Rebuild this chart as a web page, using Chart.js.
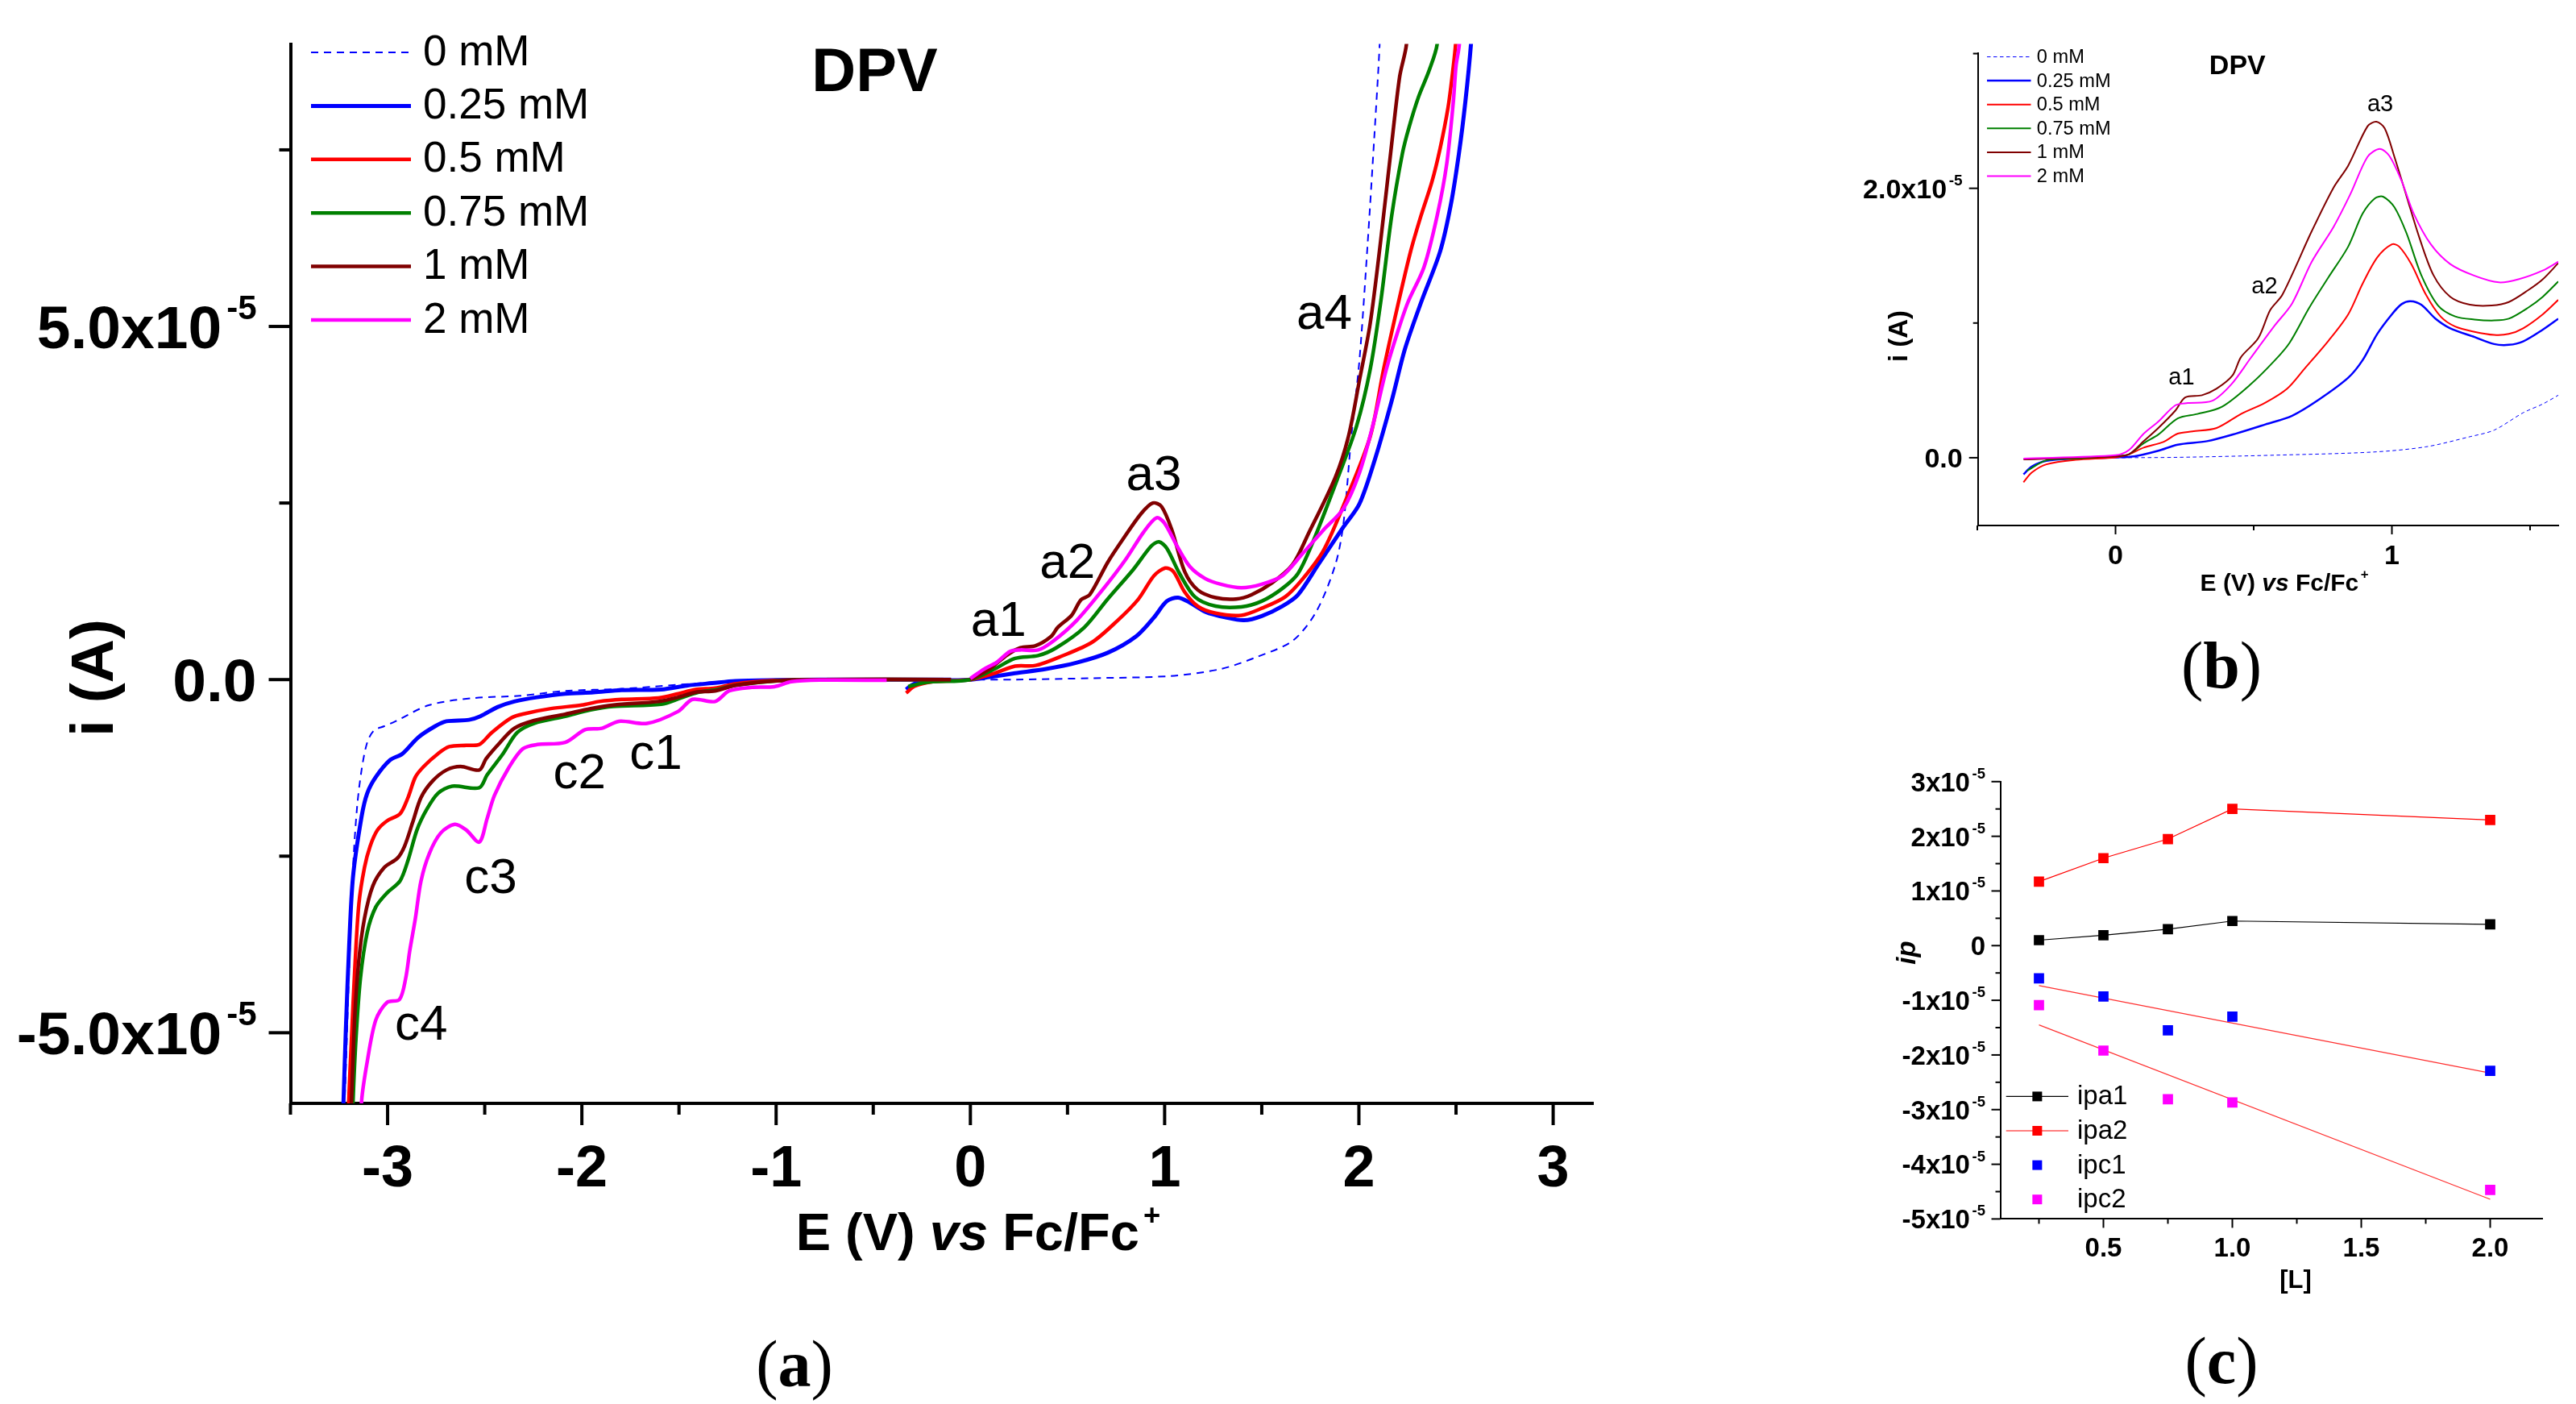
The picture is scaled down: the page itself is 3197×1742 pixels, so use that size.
<!DOCTYPE html>
<html lang="en">
<head>
<meta charset="UTF-8">
<title>DPV</title>
<script src="https://cdn.jsdelivr.net/npm/chart.js"></script>
<style>
    body { margin: 0; background: white; width: 3197px; height: 1742px; overflow: hidden; position: relative; }
    canvas { position: absolute; display: block; }
    .cap { position: absolute; font-family: 'Liberation Serif', serif; font-size: 82px; color: #000; transform: translate(-50%, -50%); white-space: nowrap; }
</style>
</head>
<body>
<canvas id="panelA" width="2200" height="1640" style="left:0;top:0"></canvas>
<canvas id="panelB" width="947" height="770" style="left:2250px;top:0"></canvas>
<canvas id="panelC" width="947" height="720" style="left:2250px;top:920px"></canvas>
<div class="cap" style="left:986px;top:1693px">(<b>a</b>)</div>
<div class="cap" style="left:2757px;top:826px">(<b>b</b>)</div>
<div class="cap" style="left:2757px;top:1689px">(<b>c</b>)</div>

<script>
// all currents are in units of 1e-5 A, potentials in V
const seriesNames = ['0 mM', '0.25 mM', '0.5 mM', '0.75 mM', '1 mM', '2 mM'];

// panel (a), full scan. null in y splits the cathodic and anodic branch
const xA0 = [-3.24,-3.221,-3.198,-3.178,-3.157,-3.134,-3.105,-3.07,-3.017,-2.959,-2.785,-2.552,-2.319,-2.086,-1.795,-1.21,-0.776,0,0.23,0.627,1.024,1.289,1.474,1.659,1.78,1.878,1.92,1.961,2.003,2.044,2.079,2.107,2.12];
const yA0 = [-7,-5.97,-4.1,-2.66,-1.8,-1.28,-0.89,-0.72,-0.66,-0.59,-0.36,-0.26,-0.23,-0.16,-0.13,-0.02,0,0,0,0.02,0.05,0.15,0.32,0.55,0.96,1.62,2.2,3.44,4.53,6.13,7.67,9,10];
const xA025 = [-3.24,-3.227,-3.215,-3.198,-3.178,-3.134,-3.105,-3.061,-2.988,-2.924,-2.843,-2.755,-2.697,-2.581,-2.523,-2.435,-2.348,-2.231,-2.086,-1.94,-1.795,-1.591,-1.46,-1.329,-1.21,-1,-0.776,-0.1,-0.1,-0.331,-0.288,-0.193,0,0.098,0.23,0.389,0.548,0.707,0.852,0.945,1.011,1.069,1.13,1.21,1.315,1.408,1.5,1.606,1.686,1.791,1.92,2.003,2.086,2.169,2.237,2.32,2.418,2.473,2.515,2.548,2.577,2.6];
const yA025 = [-7,-5.97,-4.95,-3.77,-2.79,-1.94,-1.61,-1.38,-1.14,-1.05,-0.82,-0.66,-0.59,-0.57,-0.52,-0.39,-0.31,-0.25,-0.2,-0.18,-0.15,-0.14,-0.085,-0.05,-0.02,-0.007,0,0,null,-0.14,-0.06,-0.02,0,0.036,0.09,0.15,0.24,0.38,0.61,0.88,1.11,1.16,1.09,0.96,0.88,0.84,0.9,1.04,1.2,1.63,2.16,2.49,3.15,3.95,4.68,5.34,6.06,6.72,7.45,8.18,9,10];
const xA05 = [-3.21,-3.2,-3.186,-3.169,-3.148,-3.119,-3.09,-3.052,-3.003,-2.936,-2.895,-2.857,-2.814,-2.741,-2.683,-2.595,-2.528,-2.464,-2.362,-2.29,-2.159,-2,-1.911,-1.795,-1.606,-1.504,-1.416,-1.314,-1.21,-1.009,-0.776,-0.1,-0.1,-0.331,-0.288,-0.193,0,0.124,0.23,0.336,0.468,0.627,0.759,0.865,0.945,1.003,1.045,1.103,1.17,1.262,1.395,1.5,1.62,1.712,1.818,1.92,2.058,2.127,2.197,2.266,2.32,2.376,2.418,2.459,2.48,2.498,2.52];
const yA05 = [-7,-5.97,-5.09,-4.1,-3.18,-2.66,-2.36,-2.13,-2,-1.9,-1.67,-1.38,-1.23,-1.05,-0.95,-0.93,-0.92,-0.75,-0.54,-0.48,-0.41,-0.36,-0.31,-0.28,-0.26,-0.2,-0.14,-0.12,-0.06,-0.013,0,0,null,-0.19,-0.095,-0.03,0,0.09,0.19,0.2,0.33,0.53,0.84,1.14,1.47,1.58,1.53,1.24,1.04,0.94,0.91,1.01,1.17,1.43,1.83,2.46,3.44,4.39,5.26,6.06,6.57,7.05,7.52,8.1,8.54,9,10];
const xA075 = [-3.19,-3.178,-3.163,-3.14,-3.105,-3.061,-3.003,-2.936,-2.895,-2.849,-2.799,-2.741,-2.668,-2.528,-2.488,-2.406,-2.333,-2.246,-2.086,-1.955,-1.838,-1.591,-1.489,-1.402,-1.3,-1.21,-1.009,-0.776,-0.1,-0.1,-0.32,-0.25,-0.193,0,0.124,0.23,0.349,0.442,0.587,0.707,0.839,0.931,0.971,1.011,1.077,1.156,1.262,1.395,1.5,1.606,1.686,1.765,1.892,1.988,2.058,2.112,2.169,2.224,2.257,2.307,2.361,2.403,2.42];
const yA075 = [-7,-5.97,-5.09,-4.23,-3.58,-3.22,-3.02,-2.85,-2.56,-2.13,-1.84,-1.61,-1.51,-1.53,-1.35,-1.05,-0.75,-0.62,-0.52,-0.43,-0.38,-0.35,-0.26,-0.18,-0.14,-0.08,-0.02,0,0,null,-0.1,-0.05,-0.03,0,0.15,0.3,0.34,0.45,0.74,1.14,1.56,1.89,1.95,1.86,1.5,1.17,1.04,1.03,1.11,1.29,1.5,1.96,2.86,3.59,4.39,5.34,6.57,7.45,7.81,8.25,8.62,9,10];
const xA1 = [-3.2,-3.186,-3.169,-3.148,-3.119,-3.076,-3.017,-2.95,-2.913,-2.872,-2.828,-2.77,-2.697,-2.624,-2.528,-2.493,-2.421,-2.348,-2.246,-2.086,-1.955,-1.838,-1.606,-1.504,-1.416,-1.314,-1.21,-1.009,-0.776,-0.1,-0.1,0,0.098,0.19,0.257,0.336,0.415,0.45,0.521,0.569,0.614,0.707,0.786,0.879,0.939,0.984,1.037,1.103,1.17,1.262,1.368,1.447,1.553,1.659,1.739,1.878,1.946,2.003,2.058,2.112,2.169,2.21,2.245,2.26];
const yA1 = [-7,-5.97,-4.76,-3.97,-3.38,-2.92,-2.66,-2.53,-2.36,-2.03,-1.67,-1.44,-1.28,-1.23,-1.28,-1.12,-0.89,-0.69,-0.58,-0.49,-0.41,-0.36,-0.31,-0.25,-0.18,-0.16,-0.08,-0.02,0,0,null,0,0.15,0.35,0.45,0.48,0.61,0.74,0.91,1.13,1.2,1.66,1.99,2.35,2.5,2.45,2.12,1.53,1.27,1.16,1.14,1.2,1.37,1.63,2.06,2.86,3.44,4.24,5.04,6.21,7.59,8.54,9,10];
const xA2 = [-3.15,-3.134,-3.105,-3.061,-3.003,-2.939,-2.907,-2.886,-2.857,-2.828,-2.785,-2.726,-2.654,-2.595,-2.528,-2.488,-2.45,-2.377,-2.304,-2.231,-2.086,-1.984,-1.897,-1.809,-1.664,-1.504,-1.431,-1.314,-1.242,-1.125,-1.009,-0.921,-0.776,-0.431,-0.431,0,0.071,0.138,0.204,0.257,0.349,0.429,0.548,0.68,0.799,0.892,0.958,0.998,1.064,1.13,1.209,1.289,1.395,1.5,1.606,1.712,1.818,1.92,2.003,2.071,2.141,2.197,2.252,2.335,2.403,2.452,2.486,2.5,2.517,2.53];
const yA2 = [-7,-5.97,-5.41,-4.82,-4.57,-4.53,-4.23,-3.84,-3.38,-2.85,-2.46,-2.17,-2.05,-2.13,-2.3,-1.97,-1.64,-1.25,-0.98,-0.92,-0.89,-0.71,-0.69,-0.59,-0.62,-0.45,-0.28,-0.31,-0.16,-0.11,-0.1,-0.03,-0.007,-0.01,null,0.016,0.15,0.25,0.4,0.42,0.42,0.55,0.84,1.27,1.7,2.09,2.29,2.22,1.89,1.6,1.43,1.35,1.3,1.35,1.47,1.79,2.12,2.42,2.93,3.59,4.39,4.9,5.34,5.84,6.57,7.3,8.18,8.69,9,10];

// panel (b), anodic zoom
const xB0 = [0,0.225,0.577,0.93,1.123,1.282,1.37,1.475,1.546,1.602];
const yB0 = [0,0.003,0.019,0.042,0.081,0.156,0.205,0.334,0.399,0.464];
const xB025 = [-0.333,-0.303,-0.25,-0.144,0,0.067,0.155,0.225,0.331,0.437,0.542,0.639,0.736,0.842,0.894,0.947,1,1.035,1.067,1.106,1.158,1.211,1.299,1.37,1.423,1.475,1.546,1.602];
const yB025 = [-0.123,-0.065,-0.023,-0.006,0.003,0.01,0.052,0.097,0.123,0.18,0.247,0.312,0.432,0.594,0.724,0.919,1.065,1.14,1.162,1.136,1.032,0.961,0.896,0.844,0.838,0.864,0.951,1.032];
const xB05 = [-0.333,-0.303,-0.25,-0.144,0,0.049,0.102,0.173,0.225,0.278,0.366,0.454,0.542,0.621,0.683,0.771,0.842,0.894,0.947,1,1.026,1.07,1.123,1.176,1.229,1.299,1.37,1.423,1.475,1.546,1.602];
const yB05 = [-0.182,-0.11,-0.049,-0.016,0.003,0.026,0.075,0.117,0.179,0.195,0.221,0.325,0.409,0.513,0.659,0.87,1.065,1.292,1.487,1.584,1.568,1.438,1.211,1.049,0.974,0.935,0.912,0.919,0.961,1.065,1.172];
const xB075 = [-0.32,-0.25,-0.144,0,0.049,0.102,0.155,0.225,0.296,0.384,0.489,0.577,0.63,0.701,0.771,0.842,0.894,0.938,0.968,1.009,1.053,1.106,1.167,1.229,1.299,1.37,1.423,1.493,1.546,1.602];
const yB075 = [-0.097,-0.019,-0.006,0.013,0.026,0.107,0.172,0.292,0.325,0.377,0.545,0.724,0.854,1.114,1.341,1.568,1.812,1.925,1.938,1.86,1.666,1.357,1.13,1.049,1.026,1.019,1.032,1.114,1.195,1.308];
const xB1 = [-0.333,0,0.049,0.102,0.155,0.217,0.252,0.313,0.366,0.423,0.454,0.516,0.56,0.604,0.71,0.789,0.842,0.912,0.944,0.974,1.009,1.053,1.097,1.15,1.211,1.282,1.361,1.423,1.493,1.546,1.602];
const yB1 = [-0.013,0.01,0.026,0.123,0.221,0.351,0.448,0.464,0.513,0.61,0.747,0.886,1.097,1.211,1.682,2.006,2.169,2.461,2.494,2.445,2.234,1.942,1.649,1.357,1.195,1.136,1.13,1.156,1.244,1.325,1.445];
const xB2 = [-0.333,0,0.049,0.102,0.155,0.217,0.261,0.349,0.419,0.489,0.577,0.639,0.71,0.789,0.85,0.912,0.956,0.991,1.035,1.079,1.141,1.211,1.299,1.387,1.458,1.546,1.602];
const yB2 = [-0.006,0.019,0.058,0.179,0.269,0.39,0.406,0.422,0.545,0.74,0.984,1.146,1.455,1.714,1.958,2.234,2.292,2.24,2.055,1.812,1.584,1.438,1.351,1.302,1.325,1.39,1.455];

// panel (c), peak currents against concentration
const concL = [0.25, 0.5, 0.75, 1, 2];
const ipa1 = [0.10, 0.19, 0.30, 0.45, 0.39];
const ipa2 = [1.17, 1.60, 1.95, 2.50, 2.30];
const ipc1 = [-0.60, -0.93, -1.55, -1.30, -2.29];
const ipc2 = [-1.09, -1.92, -2.81, -2.87, -4.47];
const fitL = [0.25, 2];
const fitIpc1 = [-0.73, -2.33];
const fitIpc2 = [-1.45, -4.64];

// tick values and labels, the exponent is drawn raised behind each y label
const yExponent = '-5';
const aXMajor = [-3, -2, -1, 0, 1, 2, 3];
const aXMinor = [-3.5, -2.5, -1.5, -0.5, 0.5, 1.5, 2.5];
const aYMajor = [-5, 0, 5];
const aYMinor = [-2.5, 2.5, 7.5];
const aYLabels = ['-5.0x10', '0.0', '5.0x10'];
const bXMajor = [0, 1];
const bXMinor = [-0.5, 0.5, 1.5];
const bYMajor = [0, 2];
const bYMinor = [1, 3];
const bYLabels = ['0.0', '2.0x10'];
const cXMajor = [0.5, 1, 1.5, 2];
const cXMinor = [0.25, 0.75, 1.25, 1.75];
const cXLabels = ['0.5', '1.0', '1.5', '2.0'];
const cYMajor = [-5, -4, -3, -2, -1, 0, 1, 2, 3];
const cYMinor = [-4.5, -3.5, -2.5, -1.5, -0.5, 0.5, 1.5, 2.5];
const cYLabels = ['-5x10', '-4x10', '-3x10', '-2x10', '-1x10', '0', '1x10', '2x10', '3x10'];

// peak labels, in data coordinates
const aNotes = [['a1', 0.145, 0.81], ['a2', 0.5, 1.63], ['a3', 0.944, 2.88], ['a4', 1.822, 5.16], ['c1', -1.619, -1.07], ['c2', -2.012, -1.345], ['c3', -2.469, -2.83], ['c4', -2.827, -4.9]];
const bNotes = [['a1', 0.239, 0.593], ['a2', 0.539, 1.266], ['a3', 0.958, 2.62]];

const colors = ['#0000ff', '#0000ff', '#ff0000', '#008000', '#800000', '#ff00ff'];
const FONT = "'Liberation Sans', Arial, sans-serif";

function zip(xs, ys) {
    return xs.map((x, i) => ({ x: x, y: ys[i] }));
}

function curveSets(xs, ys, width, thin) {
    return seriesNames.map((name, i) => ({
        label: name,
        data: zip(xs[i], ys[i]),
        borderColor: colors[i],
        borderWidth: i === 0 ? thin : (i === 1 ? width + 0.5 : width),
        borderDash: i === 0 ? [thin * 4.5, thin * 3.5] : [],
        pointRadius: 0,
        tension: 0.3,
        order: -i
    }));
}

// draws text made of several runs: bold, italic, superscript
function richText(ctx, runs, size, x0, cy, align) {
    const fontOf = r => (r.italic ? 'italic ' : '') + 'bold ' + (r.sup ? size * 0.56 : size) + 'px ' + FONT;
    const gap = size * 0.08;
    let w = 0;
    runs.forEach(r => { ctx.font = fontOf(r); w += ctx.measureText(r.t).width + (r.sup ? gap : 0); });
    let x = align === 'right' ? x0 - w : x0 - w / 2;
    ctx.textAlign = 'left';
    ctx.textBaseline = 'alphabetic';
    runs.forEach(r => {
        ctx.font = fontOf(r);
        if (r.sup) x += gap;
        ctx.fillText(r.t, x, cy + size * 0.36 - (r.sup ? size * 0.48 : 0));
        x += ctx.measureText(r.t).width;
    });
}

function makePanel(id, cfg) {
    const canvas = document.getElementById(id);
    const area = cfg.area;
    const deco = {
        id: 'deco',
        afterDraw(chart) {
            const ctx = chart.ctx;
            const sx = chart.scales.x, sy = chart.scales.y;
            ctx.save();
            ctx.fillStyle = '#000';
            ctx.strokeStyle = '#000';

            // tick marks, major ones longer
            ctx.lineWidth = cfg.tickWidth;
            sx.ticks.forEach(t => {
                const p = sx.getPixelForValue(t.value), len = t.major ? cfg.majorLen : cfg.minorLen;
                ctx.beginPath(); ctx.moveTo(p, sx.top); ctx.lineTo(p, sx.top + len); ctx.stroke();
            });
            sy.ticks.forEach(t => {
                const p = sy.getPixelForValue(t.value), len = t.major ? cfg.majorLen : cfg.minorLen;
                ctx.beginPath(); ctx.moveTo(sy.right, p); ctx.lineTo(sy.right - len, p); ctx.stroke();
            });

            // y tick labels with the raised exponent
            cfg.yMajor.forEach((v, k) => {
                const runs = [{ t: cfg.yLabels[k] }];
                if (v !== 0) runs.push({ t: yExponent, sup: true });
                richText(ctx, runs, cfg.yTickSize, sy.right - cfg.yPad, sy.getPixelForValue(v), 'right');
            });

            // peak labels
            ctx.textAlign = 'center';
            ctx.textBaseline = 'middle';
            ctx.font = cfg.noteSize + 'px ' + FONT;
            (cfg.notes || []).forEach(n => ctx.fillText(n[0], sx.getPixelForValue(n[1]), sy.getPixelForValue(n[2])));

            // plot title
            if (cfg.title) richText(ctx, [{ t: cfg.title[0] }], cfg.title[3], sx.getPixelForValue(cfg.title[1]), sy.getPixelForValue(cfg.title[2]));

            // axis titles
            richText(ctx, cfg.xTitle.runs, cfg.xTitle.size, cfg.xTitle.x, cfg.xTitle.y);
            ctx.save();
            ctx.translate(cfg.yTitle.x, cfg.yTitle.y);
            ctx.rotate(-Math.PI / 2);
            richText(ctx, cfg.yTitle.runs, cfg.yTitle.size, 0, 0);
            ctx.restore();

            // legend
            const lg = cfg.legend;
            chart.data.datasets.filter(d => !d.noLegend).forEach((d, i) => {
                const y = lg.top + i * lg.step;
                if (d.showLine !== false) {
                    ctx.strokeStyle = d.borderColor;
                    ctx.lineWidth = d.borderWidth;
                    ctx.setLineDash(d.borderDash || []);
                    ctx.beginPath(); ctx.moveTo(lg.lineL, y); ctx.lineTo(lg.lineR, y); ctx.stroke();
                    ctx.setLineDash([]);
                }
                if (lg.marker) {
                    ctx.fillStyle = d.pointBackgroundColor;
                    ctx.fillRect((lg.lineL + lg.lineR) / 2 - lg.marker / 2, y - lg.marker / 2, lg.marker, lg.marker);
                }
                ctx.fillStyle = '#000';
                ctx.font = lg.size + 'px ' + FONT;
                ctx.textAlign = 'left';
                ctx.textBaseline = 'middle';
                ctx.fillText(d.label, lg.textX, y + 1);
            });
            ctx.restore();
        }
    };
    const axis = (min, max, major, minor, labels, tickOpts, afterFit) => ({
        type: 'linear',
        min: min,
        max: max,
        border: { display: true, color: '#000', width: cfg.axisWidth },
        grid: { drawOnChartArea: false, drawTicks: false },
        ticks: Object.assign({
            autoSkip: false,
            maxRotation: 0,
            color: '#000',
            callback: v => {
                const k = major.indexOf(v);
                return k < 0 ? '' : labels[k];
            }
        }, tickOpts),
        afterBuildTicks: s => {
            s.ticks = major.map(v => ({ value: v, major: true })).concat(minor.map(v => ({ value: v, major: false })));
        },
        afterFit: s => {
            s.paddingTop = s.paddingBottom = s.paddingLeft = s.paddingRight = 0;
            afterFit(s);
        }
    });
    const xTicks = { font: { family: FONT, size: cfg.xTickSize, weight: 'bold' }, padding: cfg.xPad };
    return new Chart(canvas, {
        type: 'line',
        data: { datasets: cfg.datasets },
        plugins: [deco],
        options: {
            responsive: false,
            animation: false,
            devicePixelRatio: 1,
            layout: { padding: { left: 0, top: area.top, right: canvas.width - area.right, bottom: 0 } },
            plugins: { legend: { display: false }, tooltip: { enabled: false }, title: { display: false } },
            scales: {
                x: axis(cfg.xRange[0], cfg.xRange[1], cfg.xMajor, cfg.xMinor, cfg.xLabels, xTicks, s => { s.height = canvas.height - area.bottom; }),
                y: axis(cfg.yRange[0], cfg.yRange[1], cfg.yMajor, cfg.yMinor, cfg.yLabels, { display: false }, s => { s.width = area.left; })
            }
        }
    });
}

makePanel('panelA', {
    area: { left: 360.5, top: 54.5, right: 1977, bottom: 1369 },
    xRange: [-3.5, 3.205], yRange: [-6, 9],
    xMajor: aXMajor, xMinor: aXMinor, xLabels: aXMajor.map(String),
    yMajor: aYMajor, yMinor: aYMinor, yLabels: aYLabels,
    xTickSize: 72, yTickSize: 75, xPad: 40, yPad: 42, axisWidth: 4, tickWidth: 4, majorLen: 27, minorLen: 14,
    notes: aNotes, noteSize: 62,
    title: ['DPV', -0.493, 8.65, 76],
    xTitle: { runs: [{ t: 'E (V) ' }, { t: 'vs', italic: true }, { t: ' Fc/Fc' }, { t: '+', sup: true }], size: 65, x: 1214, y: 1528 },
    yTitle: { runs: [{ t: 'i (A)' }], size: 75, x: 113, y: 841 },
    legend: { top: 65, step: 66.4, lineL: 386, lineR: 510, textX: 525, size: 53 },
    datasets: curveSets([xA0, xA025, xA05, xA075, xA1, xA2], [yA0, yA025, yA05, yA075, yA1, yA2], 4.5, 2)
});

makePanel('panelB', {
    area: { left: 204.7, top: 66, right: 925, bottom: 652 },
    xRange: [-0.498, 1.602], yRange: [-0.503, 3.003],
    xMajor: bXMajor, xMinor: bXMinor, xLabels: bXMajor.map(String),
    yMajor: bYMajor, yMinor: bYMinor, yLabels: bYLabels,
    xTickSize: 34, yTickSize: 34, xPad: 18, yPad: 19, axisWidth: 2, tickWidth: 2, majorLen: 11, minorLen: 6,
    notes: bNotes, noteSize: 29,
    title: ['DPV', 0.441, 2.92, 34],
    xTitle: { runs: [{ t: 'E (V) ' }, { t: 'vs', italic: true }, { t: ' Fc/Fc' }, { t: '+', sup: true }], size: 30, x: 585, y: 722 },
    yTitle: { runs: [{ t: 'i (A)' }], size: 33, x: 105, y: 417 },
    legend: { top: 70.5, step: 29.6, lineL: 216, lineR: 270.5, textX: 277.8, size: 23.6 },
    datasets: curveSets([xB0, xB025, xB05, xB075, xB1, xB2], [yB0, yB025, yB05, yB075, yB1, yB2], 2, 1)
});

const markerSet = (label, ys, color, line) => ({
    label: label,
    data: zip(concL, ys),
    showLine: line,
    borderColor: color,
    borderWidth: 1.2,
    pointStyle: 'rect',
    pointRadius: 9,
    pointBackgroundColor: color,
    pointBorderWidth: 0,
    tension: 0
});
const fitSet = (label, ys) => ({
    label: label,
    noLegend: true,
    data: zip(fitL, ys),
    borderColor: '#ff3030',
    borderWidth: 1.2,
    pointRadius: 0,
    tension: 0
});

makePanel('panelC', {
    area: { left: 232.5, top: 49.8, right: 905.8, bottom: 592.4 },
    xRange: [0.1, 2.204], yRange: [-5, 3],
    xMajor: cXMajor, xMinor: cXMinor, xLabels: cXLabels,
    yMajor: cYMajor, yMinor: cYMinor, yLabels: cYLabels,
    xTickSize: 33, yTickSize: 33, xPad: 18, yPad: 18.5, axisWidth: 2, tickWidth: 2, majorLen: 11, minorLen: 6,
    xTitle: { runs: [{ t: '[L]' }], size: 31, x: 599, y: 667 },
    yTitle: { runs: [{ t: 'ip', italic: true }], size: 33, x: 114.7, y: 262 },
    legend: { top: 440.4, step: 42.6, lineL: 239.7, lineR: 317, textX: 328, size: 33, marker: 12 },
    datasets: [
        markerSet('ipa1', ipa1, '#000000', true),
        markerSet('ipa2', ipa2, '#ff0000', true),
        markerSet('ipc1', ipc1, '#0000ff', false),
        markerSet('ipc2', ipc2, '#ff00ff', false),
        fitSet('ipc1 fit', fitIpc1),
        fitSet('ipc2 fit', fitIpc2)
    ]
});
</script>
</body>
</html>
